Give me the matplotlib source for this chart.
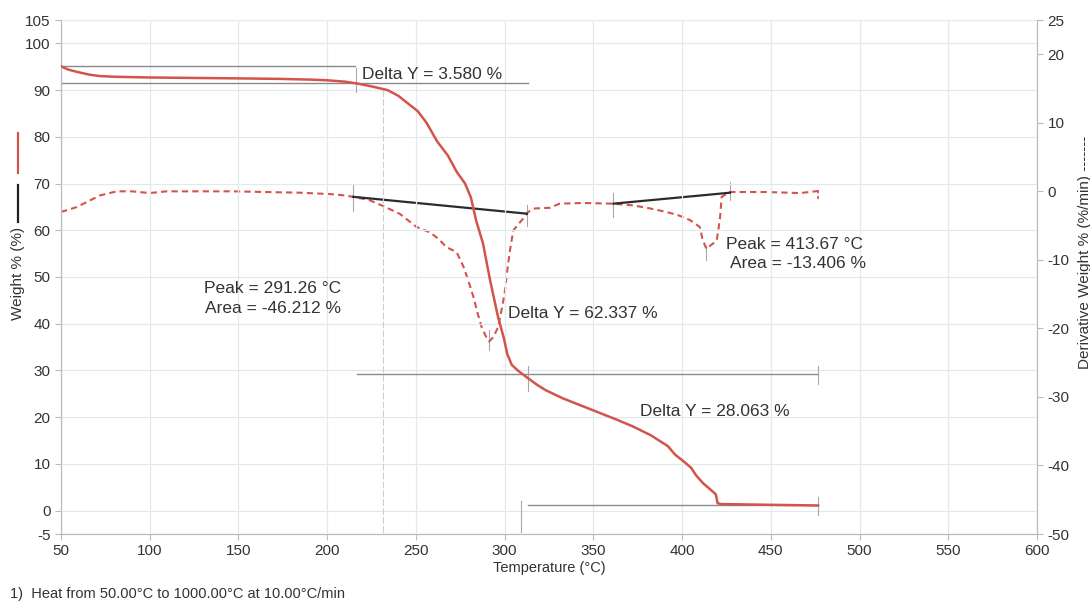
#!/usr/bin/env python3
"""
TGA / DTG thermogram: weight % and derivative weight vs temperature.
"""
import matplotlib
matplotlib.use("Agg")
import matplotlib.pyplot as plt
from matplotlib.lines import Line2D

plt.rcParams['font.family'] = ['Liberation Sans', 'DejaVu Sans']
plt.rcParams['axes.unicode_minus'] = False

# Weight % curve (left axis)
temp_w = [50, 54, 59, 66, 72, 80, 100, 125, 151, 173, 190, 200, 210, 217, 225,
          234, 240, 246, 251, 256, 262, 268, 273, 277.7, 281, 284, 287.8, 291.8,
          296.3, 299.5, 301.5, 304, 308, 313, 318, 323, 333, 343, 353, 363,
          372.4, 382.5, 392, 396, 401, 405, 408, 412, 416, 419, 420, 422, 440,
          476.6]
weight = [95.1, 94.4, 93.9, 93.3, 93.0, 92.85, 92.7, 92.6, 92.5, 92.4, 92.25,
          92.1, 91.8, 91.4, 90.8, 90.0, 88.8, 87.0, 85.5, 83.0, 79.0, 76.0,
          72.5, 70.0, 67.0, 62.0, 57.2, 49.3, 41.4, 37.0, 33.5, 31.2, 29.8,
          28.4, 27.0, 25.8, 24.0, 22.5, 21.0, 19.5, 18.0, 16.1, 13.8, 12.0,
          10.5, 9.2, 7.5, 5.8, 4.5, 3.5, 1.6, 1.4, 1.3, 1.1]

# Derivative weight curve (right axis)
temp_d = [50, 54, 58.8, 65, 72, 81.4, 90, 100, 109.6, 130, 147, 165, 184.7,
          201.6, 210, 216.6, 224, 232, 241, 250.4, 258, 263, 267, 273, 276.8,
          279.5, 282.4, 285, 287, 289.5, 291.3, 293.5, 296.4, 298.5, 300,
          301.5, 303, 304.9, 308.7, 311, 313.3, 317, 325.6, 331, 344, 361,
          372.5, 382, 391, 398, 404.5, 410, 411.5, 413.7, 416.5, 419.5, 420.5,
          421.4, 422.3, 427, 447.7, 466.5, 476.8]
deriv = [-3.0, -2.7, -2.3, -1.5, -0.6, 0.0, 0.0, -0.25, 0.0, 0.0, 0.0, -0.1,
         -0.2, -0.4, -0.6, -0.9, -1.3, -2.2, -3.3, -5.2, -6.0, -7.0, -8.1,
         -8.9, -11.0, -13.0, -15.4, -18.0, -19.8, -21.2, -21.9, -21.3, -19.8,
         -17.0, -14.9, -11.5, -8.6, -5.7, -4.5, -3.8, -3.0, -2.5, -2.4, -1.8,
         -1.7, -1.8, -2.05, -2.5, -3.0, -3.5, -4.2, -5.2, -7.0, -8.4, -7.8,
         -7.2, -5.5, -3.8, -0.8, -0.1, -0.1, -0.25, 0.05]

# Step analysis: Delta Y levels (left axis) and their extents
delta_levels = [95.1, 91.52, 29.18, 1.12]
delta_starts = [50, 50, 216.8, 313]
delta_ends = [215.7, 313, 476.6, 476.6]

# Peak baselines (right axis)
base_t = [(214.7, 312.5), (361.3, 427)]
base_d = [(-0.8, -3.26), (-1.8, -0.2)]

# Annotations: (text, temperature, weight %, horizontal alignment)
labels = [
    ("Delta Y = 3.580 %", 219.6, 93.4, 'left'),
    ("Peak = 291.26 °C", 207.8, 47.6, 'right'),
    ("Area = -46.212 %", 207.8, 43.3, 'right'),
    ("Delta Y = 62.337 %", 301.9, 42.2, 'left'),
    ("Peak = 413.67 °C", 463.6, 57.0, 'center'),
    ("Area = -13.406 %", 465.3, 52.9, 'center'),
    ("Delta Y = 28.063 %", 376.3, 21.2, 'left'),
]

x_ticks = list(range(50, 601, 50))
left_ticks = [-5, 0, 10, 20, 30, 40, 50, 60, 70, 80, 90, 100, 105]
right_ticks = [-50, -40, -30, -20, -10, 0, 10, 20, 25]

RED = '#d2544b'
TXT = '#333333'
GRID = '#e2e8ee'
SPINE = '#b8bcc0'

fig = plt.figure(figsize=(10.9, 6.01), dpi=100)
ax = fig.add_axes([61 / 1090, 1 - 534 / 601, (1037 - 61) / 1090, (534 - 20) / 601])
ax2 = ax.twinx()

# Axes styling
ax.set_xlim(50, 600)
ax.set_ylim(-5, 105)
ax2.set_ylim(-50, 25)
ax.set_xticks(x_ticks)
ax.set_yticks(left_ticks)
ax2.set_yticks(right_ticks)
ax.grid(True, color=GRID, lw=0.9)
ax.set_axisbelow(True)
for a in (ax, ax2):
    a.spines['top'].set_visible(False)
    for side in ('left', 'right', 'bottom'):
        a.spines[side].set_color(SPINE)
    a.tick_params(colors=SPINE, labelcolor=TXT, labelsize=11, length=4, width=0.8)

# Step lines and markers
for lev, t0, t1 in zip(delta_levels, delta_starts, delta_ends):
    ax.plot([t0, t1], [lev, lev], color='#8a8a8a', lw=1.0, zorder=2)
ax.plot([231.5, 231.5], [90, -5], color='#cfcfcf', lw=0.8, ls=(0, (6, 2)), zorder=1)
for t, y0, y1 in [(216, 89.6, 94.7), (313, 25.5, 31), (309, -4.5, 2),
                  (476.6, 27, 31), (476.6, -1, 3)]:
    ax.plot([t, t], [y0, y1], color='#a8a8a8', lw=0.8, zorder=2)

# Derivative curve with baselines
ax2.plot(temp_d, deriv, color=RED, lw=1.5, ls=(0, (3, 2)), zorder=3)
for (t0, t1), (d0, d1) in zip(base_t, base_d):
    ax2.plot([t0, t1], [d0, d1], color='#2b2b2b', lw=1.6, zorder=4)
for t, y0, y1 in [(214.7, 0.9, -2.8), (312.5, -2, -5), (361.3, -0.3, -3.8),
                  (427, 1.3, -1.3), (291.3, -20.3, -23.2), (413.7, -8, -10)]:
    ax2.plot([t, t], [y0, y1], color='#a8a8a8', lw=0.8, zorder=2)
ax2.plot([476.8, 476.8], [0.15, -1.3], color=RED, lw=1.2, ls=(0, (2, 1.5)), zorder=3)

# Weight curve on top
ax.plot(temp_w, weight, color=RED, lw=1.8, zorder=5)
ax.set_zorder(ax2.get_zorder() + 1)
ax.patch.set_visible(False)

for text, t, y, ha in labels:
    ax.text(t, y, text, ha=ha, va='center', fontsize=12.5, color=TXT, zorder=6)

# Axis titles
ax.set_xlabel('Temperature (°C)', fontsize=10.5, color=TXT, labelpad=2)
fig.text(18 / 1090, 1 - 273 / 601, 'Weight % (%)', rotation=90, ha='center',
         va='center', fontsize=11, color=TXT)
fig.add_artist(Line2D([18 / 1090] * 2, [1 - 133 / 601, 1 - 173 / 601],
                      color=RED, lw=1.6))
fig.add_artist(Line2D([18 / 1090] * 2, [1 - 185 / 601, 1 - 222 / 601],
                      color='#222222', lw=1.6))
fig.text(1085 / 1090, 1 - 252 / 601, 'Derivative Weight % (%/min) -------',
         rotation=90, ha='center', va='center', fontsize=11, color=TXT)

fig.text(10 / 1090, 1 - 594 / 601, '1)  Heat from 50.00°C to 1000.00°C at 10.00°C/min',
         ha='left', va='center', fontsize=10.5, color=TXT)

fig.savefig('out.png', dpi=100)
